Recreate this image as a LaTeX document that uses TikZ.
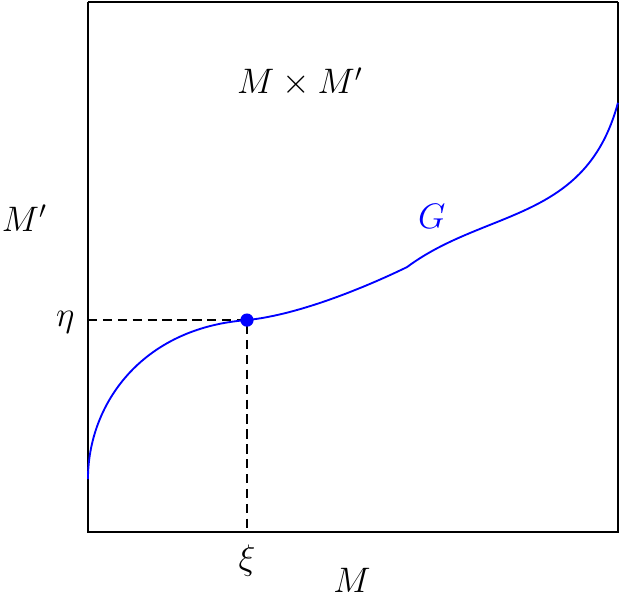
\documentclass[tikz,border=0pt]{standalone}
\usepackage{amsmath,amssymb}
\usepackage{xcolor}
\usepackage{tikz}

\begin{document}
\begin{tikzpicture}[
    dot/.style={shape=circle, inner sep=0pt, minimum size=0.25cm, fill=blue},
    guide/.style={dashed, dash pattern=on 5pt off 3pt, line width=1pt},
    lbl/.style={font=\LARGE, scale=1.1, transform shape}]
    \useasboundingbox (-1.66,-1.34) rectangle (10.02,10.04);
    \draw[line width=1pt] (0,10) -- (0,0) -- (10,0) -- (10,10);
    \draw[line width=1pt] (0,10) -- (10,10);

    \coordinate (etaaxis) at (0,4);
    \coordinate (xiaxis) at (3,0);
    \node[lbl, anchor=east] (eta) at (-0.12,3.96) {$\eta$};
    \node[lbl, anchor=north] (xi) at (3,-0.1) {$\xi$};
    \node[lbl] (M) at (4.98,-0.92) {$M$};
    \node[lbl] (Mp) at (-1.2,5.92) {$M'$};
    \node[lbl] (prod) at (4.0,8.49) {$M \times M'$};

    \draw[guide] (etaaxis) -- (3,4) -- (xiaxis);
    \draw[blue, line width=1pt] (0,1.0) .. controls (0,2.4) and (1.0,3.85) .. (3,4)
        .. controls (4,4.1) and (5.3,4.65) .. (6.02,5.0)
        .. controls (7.5,6.1) and (9.4,5.85) .. (10,8.1);
    \node[dot] (pt) at (3,4) {};
    \node[lbl, text=blue] (G) at (6.49,5.96) {$G$};
\end{tikzpicture}
\end{document}
